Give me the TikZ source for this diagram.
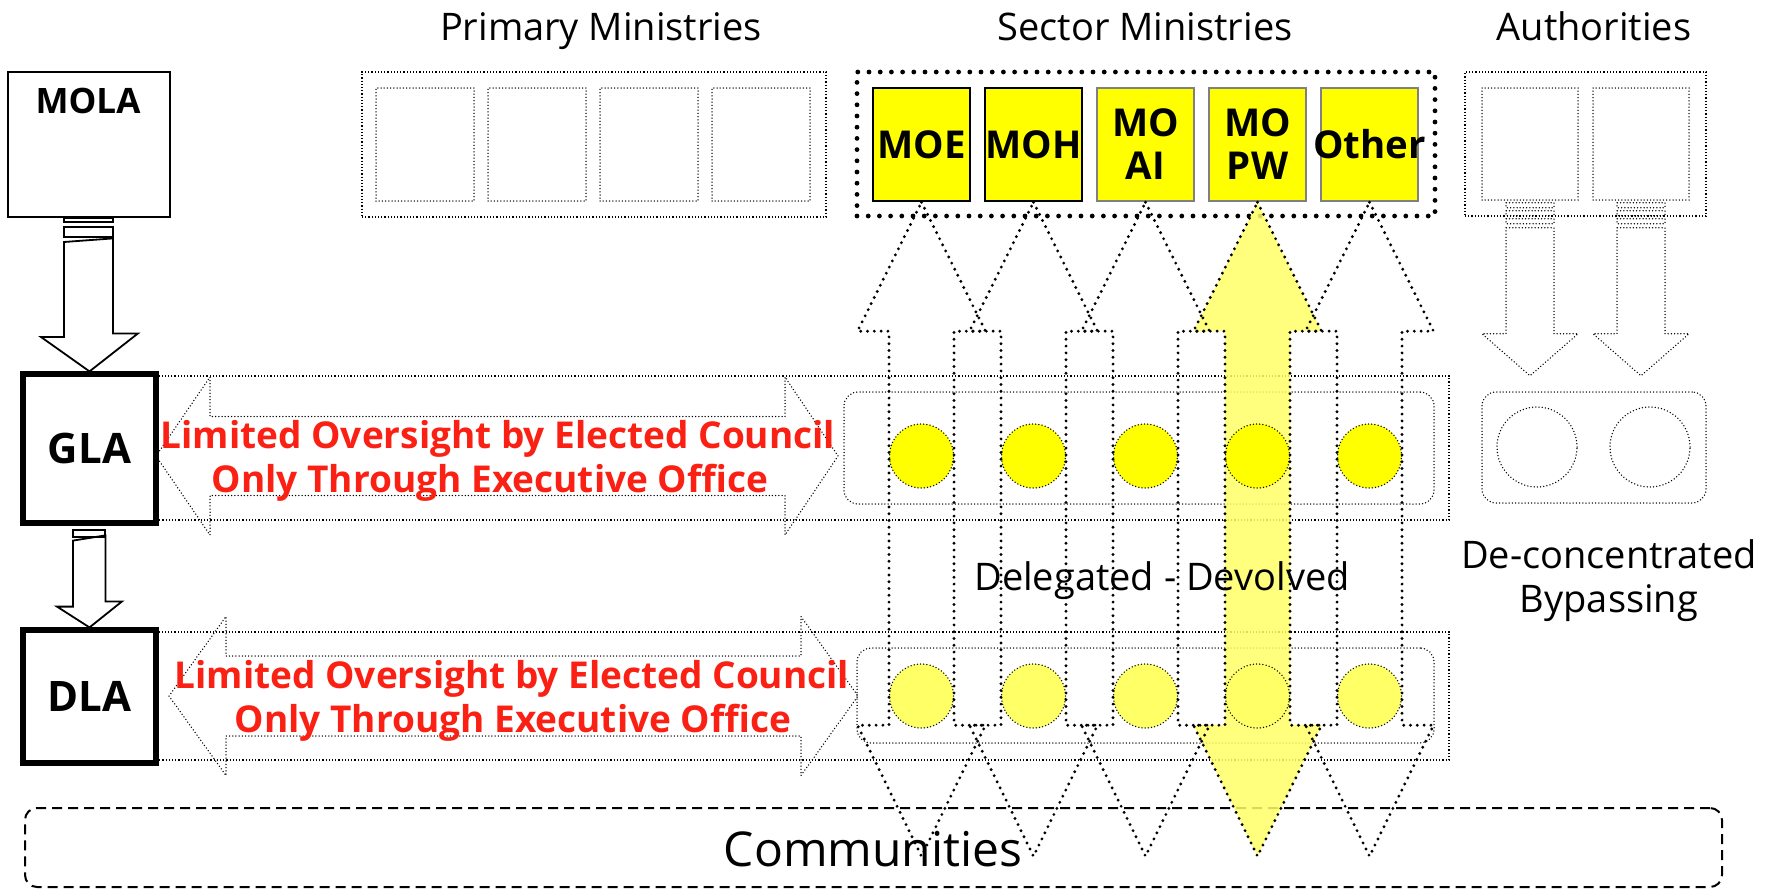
\documentclass[tikz,border=0pt]{standalone}
\usepackage{fontspec}
\setmainfont{Open Sans}
\usetikzlibrary{fit,calc}

\definecolor{councilred}{RGB}{250,32,20}
\definecolor{deskyellow}{RGB}{255,255,0}
\definecolor{flowyellow}{RGB}{255,255,102}

\newcommand\headsize{\fontsize{19}{22}\selectfont}
\newcommand\desksize{\fontsize{19.2}{21.5}\selectfont\bfseries}
\newcommand\notesize{\fontsize{18.5}{22}\selectfont\bfseries}

\begin{document}
\begin{tikzpicture}[x=0.5pt,y=-0.5pt,inner sep=0pt,
                    thindot/.style={line width=0.75pt,dash pattern=on 0pt off 1.6pt,line cap=round},
                    bigdot/.style={line width=1.6pt,dash pattern=on 0pt off 3.4pt,line cap=round},
                    hugedot/.style={line width=2.4pt,dash pattern=on 0pt off 5.6pt,line cap=round},
                    vshape/.style={insert path={-- ++(64,129) -- ++(-31.5,0) -- ++(0,394)
                      -- ++(31.5,0) -- ++(-64,131) -- ++(-64,-131) -- ++(31.5,0)
                      -- ++(0,-394) -- ++(-31.5,0) -- cycle}}]
  \tikzstyle{plainbox}=[draw,line width=1pt]
  \tikzstyle{outerbox}=[draw,line width=0.6pt,densely dotted]
  \tikzstyle{heavybox}=[draw,line width=2.6pt,fill=white]
  \tikzstyle{boxtext}=[font=\fontsize{21}{24}\selectfont\bfseries]
  \tikzstyle{desk}=[draw,line width=1.2pt,fill=deskyellow]
  \tikzstyle{emptydesk}=[draw,thindot]
  \tikzstyle{rowbox}=[draw,thindot,rounded corners=7pt]
  \tikzstyle{council}=[anchor=base,text=councilred,font=\notesize]

  \useasboundingbox (0,0) rectangle (1773,889);

  % column titles
  \node[anchor=base,font=\headsize] (primtitle) at (601,40) {Primary Ministries};
  \node[anchor=base,font=\headsize] (sectitle)  at (1145,40) {Sector Ministries};
  \node[anchor=base,font=\headsize] (authtitle) at (1594,40) {Authorities};

  % top row
  \node[plainbox,fit={(8,72) (170,217)}] (mola) {};
  \node[anchor=base,font=\fontsize{17.5}{20}\selectfont\bfseries] (molatext) at (88,113) {MOLA};

  \node[outerbox,fit={(362,72) (826,217)}] (primary) {};
  \foreach \k in {0,...,3}
    \node[emptydesk,fit={(376+112*\k,88) (474+112*\k,201)}] (prim\k) {};

  \node[draw,hugedot,fit={(857,72) (1435,216)}] (sector) {};
  \foreach \m/\txt/\edge [count=\k from 0] in {moe/MOE/black,moh/MOH/black,
      moai/{MO\\AI}/gray,mopw/{MO\\PW}/gray,other/Other/gray} {
    \node[desk,draw=\edge,fit={(873+112*\k,88) (970+112*\k,201)}] (\m) {};
    \node[align=center,font=\desksize] (\m text) at (\m) {\txt};
  }

  \node[outerbox,fit={(1465,72) (1706,216)}] (auth) {};
  \node[emptydesk,fit={(1482,88) (1578,200)}] (auth1) {};
  \node[emptydesk,fit={(1593,88) (1689,200)}] (auth2) {};

  % government bands
  \node[outerbox,fit={(156,376) (1449,520)}] (glaband) {};
  \node[outerbox,fit={(156,632) (1449,760)}] (dlaband) {};
  \node[rowbox,fit={(844,392) (1434,504)}] (glarow) {};
  \node[rowbox,fit={(857,648) (1434,743)}] (dlarow) {};
  \node[rowbox,fit={(1482,392) (1706,503)}] (authrow) {};

  \node[draw,line width=1pt,dash pattern=on 5pt off 3pt,rounded corners=6pt,
        fit={(25,808) (1722,887)}] (communities) {};
  \node[anchor=base,font=\fontsize{24}{28}\selectfont] (commtext) at (873,866) {Communities};

  \node[heavybox,fit={(23,374) (156,523)}] (gla) {};
  \node[boxtext] (glatext) at (gla) {GLA};
  \node[heavybox,fit={(23,630) (156,763)}] (dla) {};
  \node[boxtext] (dlatext) at (dla) {DLA};

  % oversight arrows
  \coordinate (glaL) at (156,456);
  \coordinate (glaR) at (838,456);
  \coordinate (dlaL) at (169,696);
  \coordinate (dlaR) at (858,696);
  \draw[thindot] (glaL) -- ++(54,-79) -- ++(0,39.5) -- ($(glaR)+(-53,-39.5)$) -- ++(0,-39.5)
    -- (glaR) -- ++(-53,79) -- ++(0,-39.5) -- ($(glaL)+(54,39.5)$) -- ++(0,39.5) -- cycle;
  \draw[thindot] (dlaL) -- ++(57,-79.5) -- ++(0,39.5) -- ($(dlaR)+(-57,-40)$) -- ++(0,-39.5)
    -- (dlaR) -- ++(-57,79.5) -- ++(0,-39.5) -- ($(dlaL)+(57,40)$) -- ++(0,39.5) -- cycle;

  % delegated / devolved
  \fill[flowyellow,opacity=0.85] (mopw.south) [vshape];
  \foreach \m in {moe,moh,moai,mopw,other} {
    \node[circle,draw,thindot,fill=deskyellow,minimum size=32pt] (top\m) at (\m |- glaL) {};
    \node[circle,draw,thindot,fill=flowyellow,minimum size=32pt] (low\m) at (\m |- dlaL) {};
  }
  \foreach \m in {moe,moh,moai,mopw,other}
    \draw[bigdot] (\m.south) [vshape];

  % line of command
  \draw[line width=0.9pt] ($(mola.south)+(-25,0)$) rectangle ++(49,4);
  \draw[line width=0.9pt] ($(mola.south)+(-25,9)$) rectangle ++(49,10);
  \draw[line width=0.9pt] ($(mola.south)+(-25,24)$) -- ++(0,95) -- ++(-23,0) -- (gla.north)
    -- ++(48.5,-38) -- ++(-25,0) -- ++(0,-95) -- cycle;
  \draw[line width=0.9pt] ($(gla.south)+(-16.5,4)$) rectangle ++(32,7);
  \draw[line width=0.9pt] ($(gla.south)+(-16.5,15)$) -- ++(0,66) -- ++(-16,0) -- (dla.north)
    -- ++(32.5,-26) -- ++(-16.5,0) -- ++(0,-66) -- cycle;

  % de-concentrated
  \foreach \a in {auth1,auth2} {
    \draw[thindot] ($(\a.south)+(-24,2)$) rectangle ++(48,5);
    \draw[thindot] ($(\a.south)+(-24,10)$) rectangle ++(48,5);
    \draw[thindot] ($(\a.south)+(-24,18)$) rectangle ++(48,5);
    \draw[thindot] ($(\a.south)+(-24,27)$) -- ++(0,106) -- ++(-24,0) -- ++(48,42)
      -- ++(48,-42) -- ++(-24,0) -- ++(0,-106) -- cycle;
  }
  \node[circle,draw,thindot,minimum size=40pt] (authc1) at (1537,447) {};
  \node[circle,draw,thindot,minimum size=40pt] (authc2) at (1650,447) {};

  % labels
  \node[council] (glanote1) at (498,448) {Limited Oversight by Elected Council};
  \node[council] (glanote2) at (490,492) {Only Through Executive Office};
  \node[council] (dlanote1) at (512,688) {Limited Oversight by Elected Council};
  \node[council] (dlanote2) at (513,732) {Only Through Executive Office};
  \node[anchor=base,font=\headsize] (delegated) at (1162,590) {Delegated - Devolved};
  \node[anchor=base,font=\headsize] (deconc) at (1609,568) {De-concentrated};
  \node[anchor=base,font=\headsize] (bypass) at (1609,612) {Bypassing};
\end{tikzpicture}
\end{document}
